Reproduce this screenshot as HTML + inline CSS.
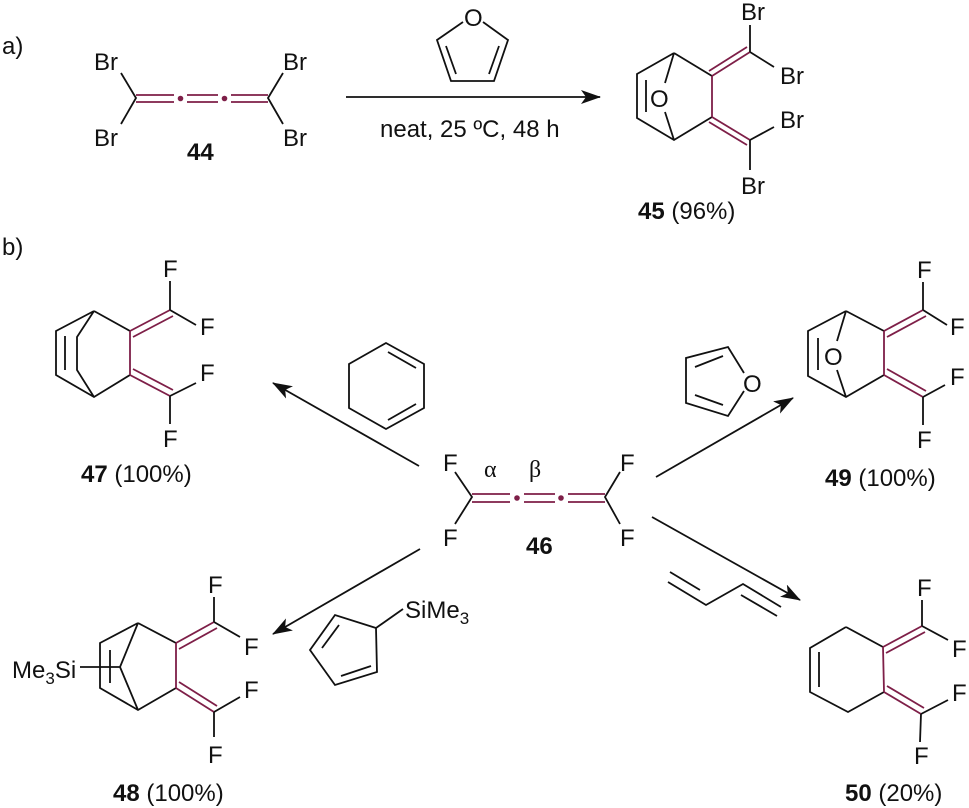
<!DOCTYPE html>
<html><head><meta charset="utf-8"><style>
html,body{margin:0;padding:0;background:#fff;}
svg{display:block;}
text{font-family:"Liberation Sans",sans-serif;font-size:24px;fill:#111;}
.b{font-weight:bold;}
.k{stroke:#111;stroke-width:1.8;fill:none;}
.m{stroke:#7e1f48;stroke-width:1.8;fill:none;}
.g{font-family:"Liberation Serif",serif;}
</style></head><body>
<svg width="969" height="808" viewBox="0 0 969 808" xmlns="http://www.w3.org/2000/svg">
<defs><marker id="ah" markerWidth="20" markerHeight="14" refX="19" refY="7" orient="auto" markerUnits="userSpaceOnUse"><path d="M0,0 L20,7 L0,14 L5,7 Z" fill="#111"/></marker></defs>

<!-- a) -->
<text x="2" y="54">a)</text>
<text x="94" y="70">Br</text><text x="94" y="146">Br</text>
<text x="283" y="70">Br</text><text x="283" y="146">Br</text>
<path class="k" d="M121,73 L136,98 L121,124 M283,73 L268,98 L283,124"/>
<path class="m" d="M136,95 H174 M136,102 H174 M187,95 H218 M187,102 H218 M231,95 H268 M231,102 H268"/>
<circle cx="180.5" cy="98.5" r="2.8" fill="#7e1f48"/><circle cx="224.5" cy="98.5" r="2.8" fill="#7e1f48"/>
<text x="187" y="160" class="b">44</text>
<!-- furan -->
<text x="464" y="26">O</text>
<path class="k" d="M463,22 L437,40 L451,81 L494,81 L508,40 L483,22 M446,46 L456,74 M499,46 L489,74"/>
<line class="k" x1="346" y1="97" x2="600" y2="97" marker-end="url(#ah)"/>
<text x="380" y="137">neat, 25 ºC, 48 h</text>
<!-- 45 -->
<path class="k" d="M674,53 L637,74 L637,118 L674,140 L712,117 M674,53 L712,76 M646,80 L646,112 M674,53 L665,83 M665,112 L674,140"/>
<text x="650" y="107">O</text>
<path class="m" d="M712,76 L712,117 M712,76 L750,52 M709,71 L747,47 M712,117 L750,140 M709,122 L747,145"/>
<path class="k" d="M750,52 L750,25 M750,52 L774,67 M750,140 L774,127 M750,140 L750,170"/>
<text x="741" y="20">Br</text><text x="780" y="84">Br</text><text x="780" y="128">Br</text><text x="741" y="194">Br</text>
<text x="638" y="219"><tspan class="b">45</tspan> (96%)</text>

<!-- b) -->
<text x="2" y="255">b)</text>
<!-- 47 -->
<path class="k" d="M94,311 L56,331 L56,375 L94,397 L130,375 M94,311 L130,331 M65,336 L65,370 M94,311 L77,337 L77,370 L94,397"/>
<path class="m" d="M130,331 L130,375 M130,331 L170,310 M133,337 L173,316 M130,375 L170,396 M133,369 L173,390"/>
<path class="k" d="M170,310 L170,281 M170,310 L196,325 M170,396 L196,383 M170,396 L170,424"/>
<text x="163" y="277">F</text><text x="200" y="335">F</text><text x="200" y="381">F</text><text x="163" y="447">F</text>
<text x="81" y="482"><tspan class="b">47</tspan> (100%)</text>
<line class="k" x1="419" y1="466" x2="273" y2="383" marker-end="url(#ah)"/>
<path class="k" d="M386,343 L424,364 L424,408 L386,429 L349,408 L349,364 Z M388,352 L416,368 M416,404 L388,420"/>

<!-- 46 -->
<text x="443" y="471">F</text><text x="443" y="546">F</text>
<text x="620" y="471">F</text><text x="620" y="546">F</text>
<path class="k" d="M455,472 L472,497 L455,524 M620,472 L605,497 L620,524"/>
<path class="m" d="M472,494 H510 M472,502 H510 M524,494 H555 M524,502 H555 M568,494 H605 M568,502 H605"/>
<circle cx="517" cy="498" r="2.8" fill="#7e1f48"/><circle cx="561" cy="498" r="2.8" fill="#7e1f48"/>
<text x="484" y="477" class="g">α</text><text x="529" y="477" class="g">β</text>
<text x="526" y="554" class="b">46</text>

<!-- 49 -->
<line class="k" x1="656" y1="477" x2="793" y2="398" marker-end="url(#ah)"/>
<text x="743" y="392">O</text>
<path class="k" d="M744,373 L728,347 L686,358 L686,403 L728,416 L744,391 M695,367 L723,356 M695,395 L723,405"/>
<path class="k" d="M846,311 L808,331 L808,376 L846,397 L884,375 M846,311 L884,331 M818,338 L818,370 M846,311 L837,341 M837,370 L846,397"/>
<text x="824" y="365">O</text>
<path class="m" d="M884,331 L884,375 M884,331 L923,310 M887,337 L926,316 M884,375 L923,397 M887,369 L926,391"/>
<path class="k" d="M923,310 L923,282 M923,310 L947,325 M923,397 L945,385 M923,397 L923,425"/>
<text x="917" y="278">F</text><text x="950" y="335">F</text><text x="950" y="385">F</text><text x="917" y="448">F</text>
<text x="825" y="486"><tspan class="b">49</tspan> (100%)</text>

<!-- 48 -->
<line class="k" x1="420" y1="549" x2="273" y2="634" marker-end="url(#ah)"/>
<path class="k" d="M376,628 L335,615 L310,650 L335,685 L377,672 Z M376,628 L403,609 M322,648 L339,625 M341,676 L371,666"/>
<text x="405" y="618">SiMe<tspan font-size="17" dy="6">3</tspan></text>
<path class="k" d="M138,623 L100,643 L100,688 L138,710 L176,688 M138,623 L176,643 M110,650 L110,683 M138,623 L120,667 L138,710 M80,667 L120,667"/>
<path class="m" d="M176,643 L176,688 M176,643 L214,622 M179,649 L217,628 M176,688 L214,712 M179,682 L217,706"/>
<path class="k" d="M214,622 L214,597 M214,622 L240,637 M214,712 L240,697 M214,712 L214,737"/>
<text x="208" y="593">F</text><text x="244" y="655">F</text><text x="244" y="698">F</text><text x="208" y="763">F</text>
<text x="12" y="678">Me<tspan font-size="17" dy="6">3</tspan><tspan dy="-6">Si</tspan></text>
<text x="113" y="801"><tspan class="b">48</tspan> (100%)</text>

<!-- 50 -->
<line class="k" x1="652" y1="517" x2="800" y2="600" marker-end="url(#ah)"/>
<path class="k" d="M668,582 L706,605 L743,584 L781,607 M670,572 L700,590 M741,595 L777,616"/>
<path class="k" d="M846,627 L810,648 L810,692 L848,712 L884,692 M846,627 L883,647 M819,652 L819,687"/>
<path class="m" d="M883,647 L884,692 M883,647 L922,626 M886,653 L925,632 M884,692 L921,714 M887,686 L924,708"/>
<path class="k" d="M922,626 L922,600 M922,626 L948,640 M921,714 L948,700 M921,714 L920,742"/>
<text x="917" y="596">F</text><text x="952" y="657">F</text><text x="952" y="701">F</text><text x="914" y="764">F</text>
<text x="845" y="801"><tspan class="b">50</tspan> (20%)</text>
</svg>
</body></html>
